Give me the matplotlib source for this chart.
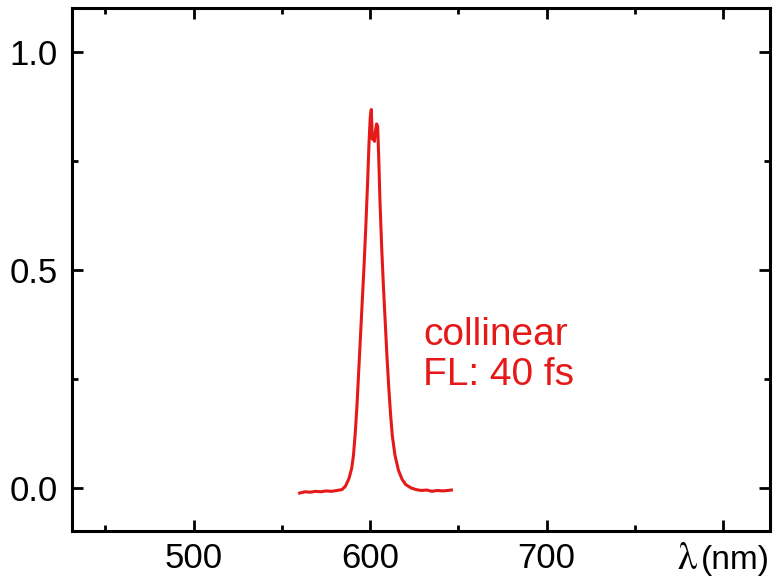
import matplotlib
matplotlib.use('Agg')
import matplotlib.pyplot as plt
from matplotlib.ticker import MultipleLocator

plt.rcParams['font.family'] = ['Liberation Sans', 'DejaVu Sans']

# Spectrum
wavelength = [560, 563, 566, 569, 572, 575, 578, 581, 584, 586, 588, 589.5,
              590.5, 591.5, 592.5, 593.5, 594.5, 595.5, 596.5, 597.5, 598.5,
              599.3, 600.0, 600.6, 601.2, 601.8, 602.4, 603.0, 603.6, 604.2,
              604.8, 605.5, 606.5, 607.5, 608.5, 609.5, 610.5, 611.5, 612.5,
              614, 616, 618, 620, 623, 626, 629, 632, 635, 638, 641, 644, 646]
intensity = [-0.012, -0.009, -0.010, -0.008, -0.009, -0.007, -0.008, -0.006,
             -0.004, 0.004, 0.022, 0.045, 0.075, 0.125, 0.19, 0.27, 0.35, 0.43,
             0.51, 0.60, 0.70, 0.79, 0.85, 0.868, 0.80, 0.81, 0.795, 0.82,
             0.835, 0.83, 0.76, 0.66, 0.55, 0.46, 0.38, 0.30, 0.23, 0.17, 0.12,
             0.075, 0.040, 0.020, 0.008, 0.000, -0.004, -0.006, -0.005, -0.008,
             -0.006, -0.007, -0.006, -0.005]

xticks = [500, 600, 700, 800]
xtick_labels = ['500', '600', '700', '']
yticks = [0.0, 0.5, 1.0]
ytick_labels = ['0.0', '0.5', '1.0']

red = '#e61919'

fig = plt.figure(figsize=(7.73, 5.78), dpi=100)
ax = fig.add_axes([0.0931, 0.0813, 0.9030, 0.9049])

ax.plot(wavelength, intensity, color=red, lw=2.2)

ax.set_xlim(431, 826.5)
ax.set_ylim(-0.099, 1.101)

ax.set_xticks(xticks)
ax.set_xticklabels(xtick_labels)
ax.set_yticks(yticks)
ax.set_yticklabels(ytick_labels)
ax.xaxis.set_minor_locator(MultipleLocator(50))
ax.yaxis.set_minor_locator(MultipleLocator(0.25))

for s in ax.spines.values():
    s.set_linewidth(2.2)
ax.tick_params(which='both', direction='in', top=True, right=True, width=2.0,
               labelsize=25)
ax.tick_params(which='major', length=8)
ax.tick_params(which='minor', length=4)
ax.tick_params(axis='x', which='major', pad=8)
ax.tick_params(axis='y', which='major', pad=10)

# axis label sits where the 800 tick label would be
ax.text(785.5, -0.187, r'$\mathrm{\lambda}$', fontsize=28,
        math_fontfamily='stix', ha='right', va='baseline', clip_on=False)
ax.text(787.4, -0.187, '(nm)', fontsize=24, ha='left', va='baseline',
        clip_on=False)

ax.text(629.9, 0.328, 'collinear', color=red, fontsize=28, va='baseline')
ax.text(629.9, 0.236, 'FL: 40 fs', color=red, fontsize=28, va='baseline')

fig.savefig('out.png', dpi=100)
